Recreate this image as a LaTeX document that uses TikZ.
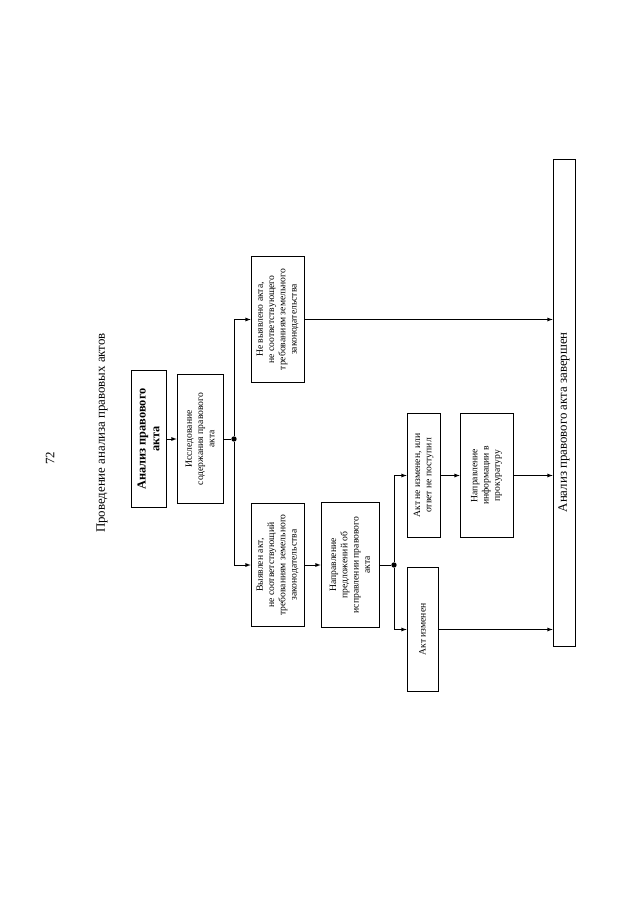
\documentclass[tikz,border=0pt]{standalone}
\usepackage{fontspec}
\setmainfont{Liberation Serif}
\begin{document}
\begin{tikzpicture}[x=0.0328cm, y=0.0328cm,
  every node/.style={rotate=90, align=center, inner sep=1pt},
  box/.style={draw, line width=0.7pt, font=\fontsize{9}{10.5}\selectfont},
  dot/.style={circle, fill, inner sep=0pt, minimum size=5pt},
  link/.style={line width=0.7pt}]

\useasboundingbox (0,0) rectangle (640,-905);

\node (num) at (50,-458) {\fontsize{12}{14}\selectfont 72};
\node (title) at (102,-433) {\fontsize{12}{14}\selectfont Проведение анализа правовых актов};

\node[box, minimum width=128pt, minimum height=32.6pt, font=\fontsize{11.5}{13}\selectfont\bfseries] (analiz) at (148.5,-439) {Анализ правового\\ акта};
\node[box, minimum width=121pt, minimum height=42.8pt] (issl) at (200,-439) {Исследование\\ содержания правового\\ акта};
\node[box, minimum width=118pt, minimum height=49.3pt] (nevyav) at (277.5,-319.5) {Не выявлено акта,\\ не соответствующего\\ требованиям земельного\\ законодательства};
\node[box, minimum width=115.4pt, minimum height=49.3pt] (vyav) at (277.5,-565) {Выявлен акт,\\ не соответствующий\\ требованиям земельного\\ законодательства};
\node[box, minimum width=117.3pt, minimum height=54pt] (predl) at (350,-565) {Направление\\ предложений об\\ исправлении правового\\ акта};
\node[box, minimum width=116.3pt, minimum height=30.7pt] (neizm) at (423.5,-475.5) {Акт не изменен, или\\ ответ не поступил};
\node[box, minimum width=116.3pt, minimum height=49.3pt] (prok) at (486.5,-475.5) {Направление\\ информации в\\ прокуратуру};
\node[box, minimum width=116.3pt, minimum height=28.9pt] (izm) at (422.5,-629.5) {Акт изменен};
\node[box, minimum width=454pt, minimum height=20.5pt, font=\fontsize{12}{14}\selectfont] (final) at (564,-403) {Анализ правового акта завершен\hspace*{36pt}};

\node[dot] (d1) at (234,-439) {};
\node[dot] (d2) at (394,-565) {};

\draw[->, >=latex, link] (analiz) -- (issl);
\draw[link] (issl) -- (d1);
\draw[->, >=latex, link] (d1) |- (nevyav);
\draw[->, >=latex, link] (d1) |- (vyav);
\draw[->, >=latex, link] (nevyav) -- (nevyav -| final.north);
\draw[->, >=latex, link] (vyav) -- (predl);
\draw[link] (predl) -- (d2);
\draw[->, >=latex, link] (d2) |- (neizm);
\draw[->, >=latex, link] (d2) |- (izm);
\draw[->, >=latex, link] (neizm) -- (prok);
\draw[->, >=latex, link] (prok) -- (prok -| final.north);
\draw[->, >=latex, link] (izm) -- (izm -| final.north);
\end{tikzpicture}
\end{document}
